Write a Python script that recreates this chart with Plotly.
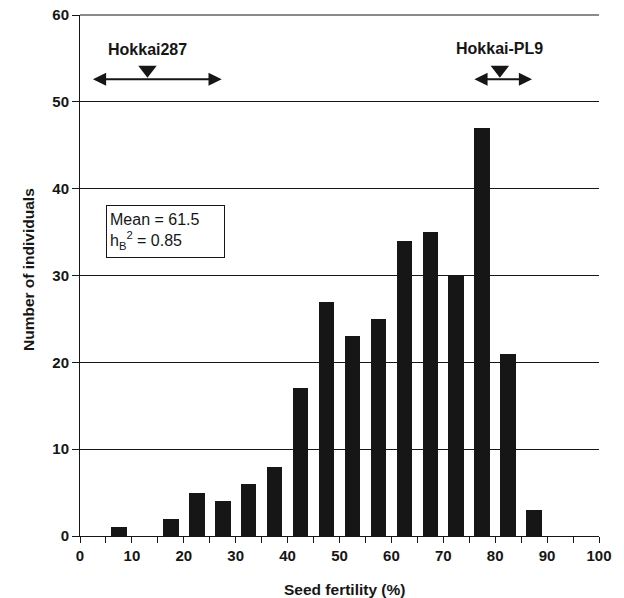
import plotly.graph_objects as go

bin_centers = [7.5, 12.5, 17.5, 22.5, 27.5, 32.5, 37.5, 42.5, 47.5, 52.5, 57.5, 62.5, 67.5, 72.5, 77.5, 82.5, 87.5]
counts = [1, 0, 2, 5, 4, 6, 8, 17, 27, 23, 25, 34, 35, 30, 47, 21, 3]

parents = ["Hokkai287", "Hokkai-PL9"]
parent_means = [13.0, 80.9]
parent_lo = [2.2, 75.7]
parent_hi = [27.3, 87.1]
arrow_y = 52.6
marker_y = 53.7
label_y = [56.0, 56.2]

x_ticks = [0, 10, 20, 30, 40, 50, 60, 70, 80, 90, 100]
y_ticks = [0, 10, 20, 30, 40, 50, 60]
y_max = 60

FONT = "Liberation Sans, Arial, sans-serif"
INK = "#161616"

fig = go.Figure()
fig.add_trace(go.Bar(x=bin_centers, y=counts, width=3.0,
                     marker=dict(color=INK, line=dict(width=0)),
                     showlegend=False, hoverinfo="x+y"))

fig.add_trace(go.Scatter(x=parent_means, y=[marker_y] * len(parent_means), mode="markers",
                         marker=dict(symbol="triangle-down", size=16, color=INK),
                         showlegend=False, hoverinfo="skip"))

annotations = []
for name, m, lo, hi, ly in zip(parents, parent_means, parent_lo, parent_hi, label_y):
    annotations.append(dict(x=hi, y=arrow_y, ax=lo, ay=arrow_y, xref="x", yref="y",
                            axref="x", ayref="y", text="", showarrow=True,
                            arrowhead=2, arrowsize=1.2, arrowwidth=2.2,
                            arrowside="end+start", arrowcolor=INK))
    annotations.append(dict(x=m, y=ly, xref="x", yref="y", text=name, showarrow=False,
                            font=dict(family=FONT, size=16, color=INK, weight="bold")))

annotations.append(dict(x=5.0, y=38.1, xref="x", yref="y", xanchor="left", yanchor="top",
                        text="Mean = 61.5<br>h<sub>B</sub><sup>2</sup> = 0.85",
                        showarrow=False, align="left", bordercolor=INK, borderwidth=1,
                        borderpad=3, width=111, height=45,
                        font=dict(family=FONT, size=16, color=INK)))

# axis titles
annotations.append(dict(x=0.5, y=0, xref="paper", yref="paper", xanchor="center", yanchor="middle",
                        yshift=-53, xshift=4.5, text="Seed fertility (%)", showarrow=False,
                        font=dict(family=FONT, size=15.5, color=INK, weight="bold")))
annotations.append(dict(x=0, y=0.5, xref="paper", yref="paper", xanchor="center", yanchor="middle",
                        xshift=-52, yshift=5.5, textangle=-90, text="Number of individuals",
                        showarrow=False,
                        font=dict(family=FONT, size=15.5, color=INK, weight="bold")))

# top gridline at the range edge (paper-referenced so it is not clipped)
shapes = [dict(type="line", xref="paper", yref="paper", x0=0, x1=1, y0=1, y1=1,
               line=dict(color=INK, width=1))]

fig.update_layout(
    width=616, height=590,
    margin=dict(l=72, r=25, t=7, b=62, autoexpand=False),
    plot_bgcolor="white", paper_bgcolor="white",
    bargap=0,
    annotations=annotations,
    shapes=shapes,
    font=dict(family=FONT, color=INK),
    xaxis=dict(range=[0, 100], tickvals=x_ticks, ticktext=[str(v) for v in x_ticks],
               automargin=False, ticklabeloverflow="allow",
               showgrid=False, zeroline=False, showline=True, linecolor=INK, linewidth=1,
               ticks="outside", ticklen=6, tickcolor=INK,
               minor=dict(dtick=5, ticks="outside", ticklen=6, tickcolor=INK, showgrid=False),
               tickfont=dict(family=FONT, size=15, weight="bold")),
    yaxis=dict(range=[0, y_max], tickvals=y_ticks, ticktext=[str(v) for v in y_ticks],
               automargin=False, ticklabeloverflow="allow",
               showgrid=True, gridcolor=INK, gridwidth=1, zeroline=False,
               showline=True, linecolor=INK, linewidth=1,
               ticks="outside", ticklen=7, tickcolor=INK,
               tickfont=dict(family=FONT, size=15, weight="bold")),
)

fig.write_html("out.html")
